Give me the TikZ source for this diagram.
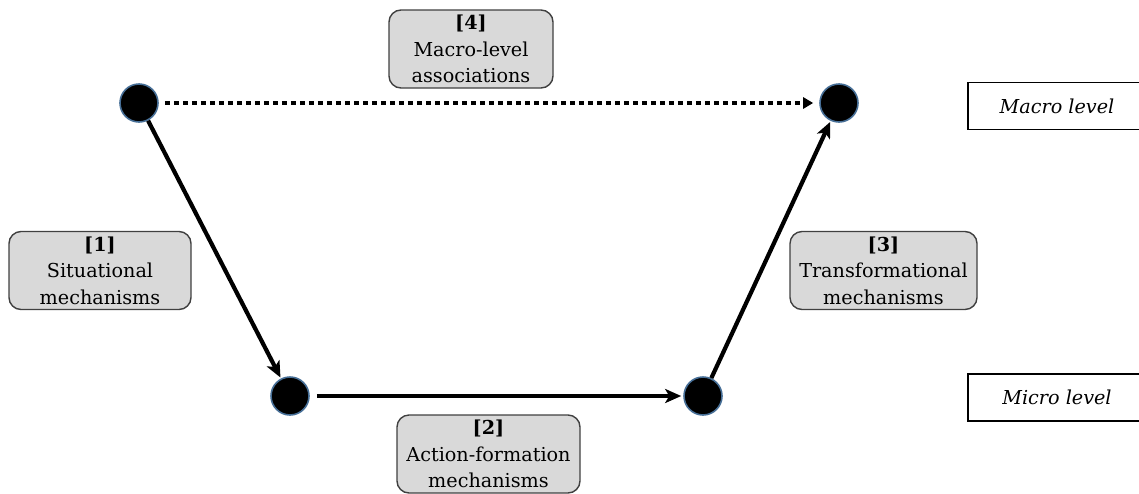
\documentclass[tikz,border=0pt]{standalone}
\usepackage{fontspec}
\setmainfont{DejaVu Serif}
\usetikzlibrary{positioning,arrows.meta}
\definecolor{dotedge}{RGB}{70,110,150}

\begin{document}
\begin{tikzpicture}[x=0.5pt, y=-0.5pt,
  dot/.style={circle, fill=black, draw=dotedge, line width=0.8pt, minimum size=19pt, inner sep=0pt},
  mech/.style={draw=black!75, fill=black!15, rounded corners=6pt, line width=0.7pt, align=center,
    inner sep=0pt, minimum height=39pt, font=\fontsize{9.6}{13.2}\selectfont},
  lvl/.style={draw, line width=0.6pt, minimum width=89pt, minimum height=23.5pt,
    font=\fontsize{9.6}{12}\selectfont\itshape},
  arr/.style={-{Stealth[length=8pt,width=7pt,inset=2pt]}, line width=2.1pt}]
  \useasboundingbox (0,0) rectangle (1139,493);
  % the four states
  \node[dot] (tl) at (139,103) {};
  \node[dot] (tr) at (839,103) {};
  \node[dot] (bl) at (290,396) {};
  \node[dot] (br) at (703,396) {};
  % mechanisms
  \node[mech, minimum width=82pt] (assoc) at (471,49) {\textbf{[4]}\\Macro-level\\associations};
  \node[mech, minimum width=91pt] (situ) at (100,270.5) {\textbf{[1]}\\Situational\\mechanisms};
  \node[mech, minimum width=93.5pt] (trans) at (883.5,270.5) {\textbf{[3]}\\Transformational\\mechanisms};
  \node[mech, minimum width=91.5pt] (action) at (488.5,454) {\textbf{[2]}\\Action-formation\\mechanisms};
  % levels
  \node[lvl] (macro) at (1057,106) {Macro level};
  \node[lvl] (micro) at (1057,397.5) {Micro level};
  % arrows
  \draw[arr, shorten >=0.5pt] (tl) -- (bl);
  \draw[arr, shorten <=3.5pt, shorten >=1pt] (bl) -- (br);
  \draw[arr, shorten >=0.5pt] (br) -- (tr);
  \draw[-{Triangle[length=5pt,width=5.5pt]}, line width=2pt, dash pattern=on 2.5pt off 2pt,
    shorten <=3pt, shorten >=3pt] (tl) -- (tr);
\end{tikzpicture}
\end{document}
